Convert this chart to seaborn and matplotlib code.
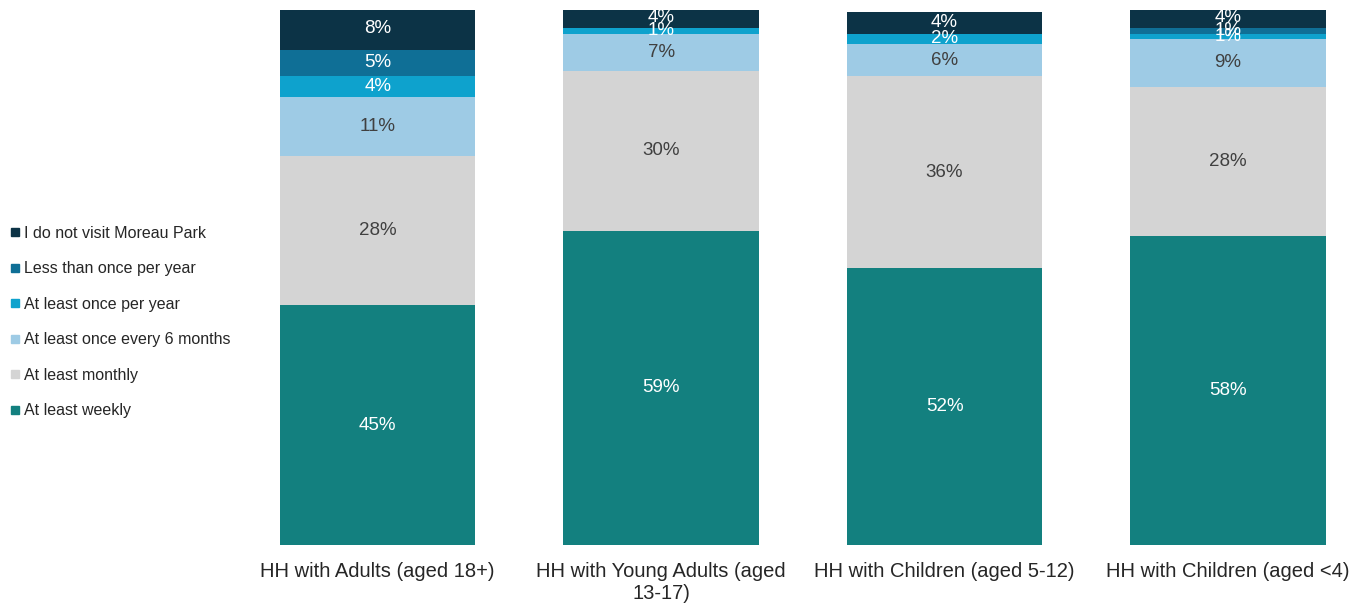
"""
Stacked bars: Moreau Park visit frequency by household type.
"""
import matplotlib
matplotlib.use("Agg")
import matplotlib.pyplot as plt
from matplotlib.lines import Line2D
import numpy as np
import pandas as pd
import seaborn as sns

# Data (percent of respondents)
groups = [
    "HH with Adults (aged 18+)",
    "HH with Young Adults (aged\n13-17)",
    "HH with Children (aged 5-12)",
    "HH with Children (aged <4)",
]
# bottom to top stacking order
categories = [
    "At least weekly",
    "At least monthly",
    "At least once every 6 months",
    "At least once per year",
    "Less than once per year",
    "I do not visit Moreau Park",
]
weekly = [45, 59, 52, 58]
monthly = [28, 30, 36, 28]
six_months = [11, 7, 6, 9]
once_year = [4, 1, 2, 1]
less_year = [5, 0, 0, 1]
no_visit = [8, 4, 4, 4]

series = [weekly, monthly, six_months, once_year, less_year, no_visit]
colors = ["#13807f", "#d4d4d4", "#9ecbe5", "#0ea2cd", "#0f6f96", "#0c3346"]
text_colors = ["white", "#404040", "#404040", "white", "white", "white"]

sns.set_style("white")
plt.rcParams["font.family"] = ["Liberation Sans", "DejaVu Sans"]

fig = plt.figure(figsize=(13.64, 6.05), dpi=100)
ax = fig.add_axes([0.173, 0.0992, 0.827, 0.885])

bottom = np.zeros(len(groups))
for cat, vals, col, tcol in zip(categories, series, colors, text_colors):
    df = pd.DataFrame({"group": groups, "value": vals})
    sns.barplot(data=df, x="group", y="value", order=groups, color=col,
                width=0.69, bottom=bottom.copy(), ax=ax, saturation=1,
                errorbar=None, linewidth=0)
    for i, v in enumerate(vals):
        if v > 0:
            ax.text(i, bottom[i] + v / 2, f"{v}%", ha="center", va="center",
                    color=tcol, fontsize=13.5)
    bottom += np.array(vals)

ax.set_xlim(-0.5, 3.48)
ax.set_ylim(0, 100.5)
ax.set_xlabel("")
ax.set_ylabel("")
ax.set_yticks([])
ax.tick_params(axis="x", length=0, labelsize=14.5, pad=12, labelcolor="#262626")
sns.despine(ax=ax, left=True, bottom=True)

# legend, top entry first
handles = [Line2D([0], [0], marker="s", linestyle="none", markersize=6,
                  markerfacecolor=c, markeredgecolor=c)
           for c in colors[::-1]]
fig.legend(handles, categories[::-1], loc="upper left",
           bbox_to_anchor=(0.0, 0.645), frameon=False, fontsize=11.5,
           handlelength=0.5, handletextpad=0.3, labelspacing=1.28,
           borderaxespad=0.3, labelcolor="#262626")

fig.savefig("out.png", dpi=100)
